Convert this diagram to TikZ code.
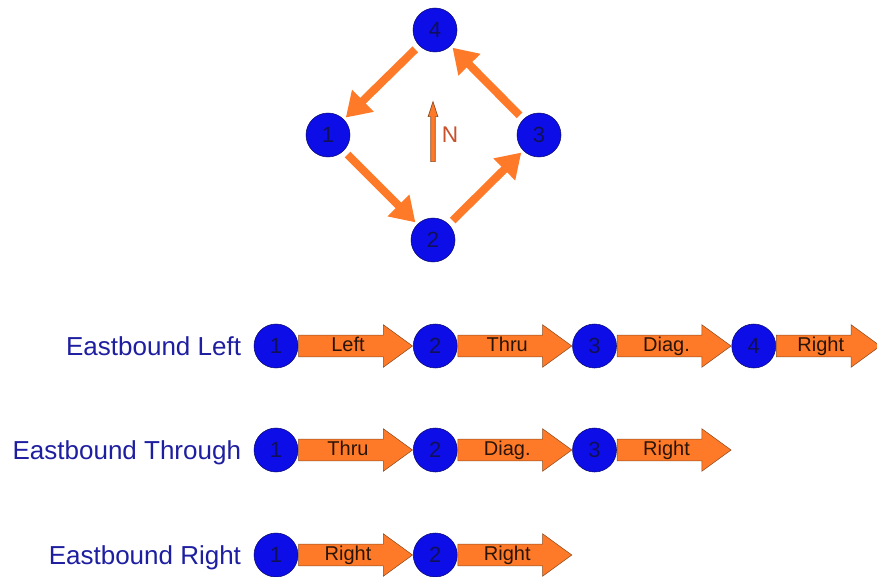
\documentclass[tikz,border=0pt]{standalone}
\usepackage{fontspec}
\setmainfont{Liberation Sans}
\usetikzlibrary{arrows.meta, positioning, shapes.arrows}
\definecolor{stopblue}{HTML}{0D0DE8}
\definecolor{stopline}{HTML}{0A0A70}
\definecolor{numblue}{HTML}{101058}
\definecolor{moveorange}{HTML}{FF7A28}
\definecolor{moveline}{HTML}{8A4A20}
\definecolor{movetext}{HTML}{2A1408}
\definecolor{labelblue}{HTML}{1E1EA0}
\definecolor{northred}{HTML}{C8502A}

\tikzset{
  stop/.style={circle, draw=stopline, fill=stopblue, minimum size=33pt, inner sep=0pt,
    text=numblue, font=\fontsize{16.5}{16.5}\selectfont},
  move/.style={single arrow, draw=moveline, fill=moveorange, minimum height=85.5pt,
    minimum width=31.5pt, single arrow tip angle=72, single arrow head extend=7.75pt,
    inner xsep=2pt, inner ysep=1pt, text height=11pt, text depth=3pt,
    font=\fontsize{15}{15}\selectfont, text=movetext},
  rowlabel/.style={text=labelblue, text height=14pt, text depth=0pt,
    font=\fontsize{19.5}{20}\selectfont},
  flow/.style={draw=moveorange, line width=6pt, -{Triangle[length=18pt,width=22pt]},
    shorten <=4pt, shorten >=2pt},
}

\begin{document}
\begin{tikzpicture}[x=0.75pt, y=-0.75pt]
  \useasboundingbox (0,0) rectangle (877,577);

  % intersection
  \node[stop] (d4) at (435,30) {4};
  \node[stop] (d1) at (328,135) {1};
  \node[stop] (d3) at (539,135) {3};
  \node[stop] (d2) at (433,240) {2};
  \draw[flow] (d4) -- (d1);
  \draw[flow] (d1) -- (d2);
  \draw[flow] (d2) -- (d3);
  \draw[flow] (d3) -- (d4);
  \node[single arrow, draw=moveline, fill=moveorange, rotate=90, minimum height=45pt,
    single arrow head extend=2pt, single arrow tip angle=36, inner sep=1.4pt,
    line width=0.5pt] (north) at (433,135) {};
  \node[text=northred, font=\fontsize{17}{17}\selectfont] (nlabel) at (450,135) {N};

  % eastbound left
  \node[stop] (l1) at (276,346) {1};
  \node[move, right=0pt of l1] (l1m) {Left};
  \node[stop, right=0pt of l1m] (l2) {2};
  \node[move, right=0pt of l2] (l2m) {Thru};
  \node[stop, right=0pt of l2m] (l3) {3};
  \node[move, right=0pt of l3] (l3m) {Diag.};
  \node[stop, right=0pt of l3m] (l4) {4};
  \node[move, right=0pt of l4, minimum height=78pt] (l4m) {Right};
  \node[rowlabel, left=6pt of l1] (lname) {Eastbound Left};

  % eastbound through
  \node[stop] (t1) at (276,450) {1};
  \node[move, right=0pt of t1] (t1m) {Thru};
  \node[stop, right=0pt of t1m] (t2) {2};
  \node[move, right=0pt of t2] (t2m) {Diag.};
  \node[stop, right=0pt of t2m] (t3) {3};
  \node[move, right=0pt of t3] (t3m) {Right};
  \node[rowlabel, left=6pt of t1] (tname) {Eastbound Through};

  % eastbound right
  \node[stop] (r1) at (276,555) {1};
  \node[move, right=0pt of r1] (r1m) {Right};
  \node[stop, right=0pt of r1m] (r2) {2};
  \node[move, right=0pt of r2] (r2m) {Right};
  \node[rowlabel, left=6pt of r1] (rname) {Eastbound Right};
\end{tikzpicture}
\end{document}
